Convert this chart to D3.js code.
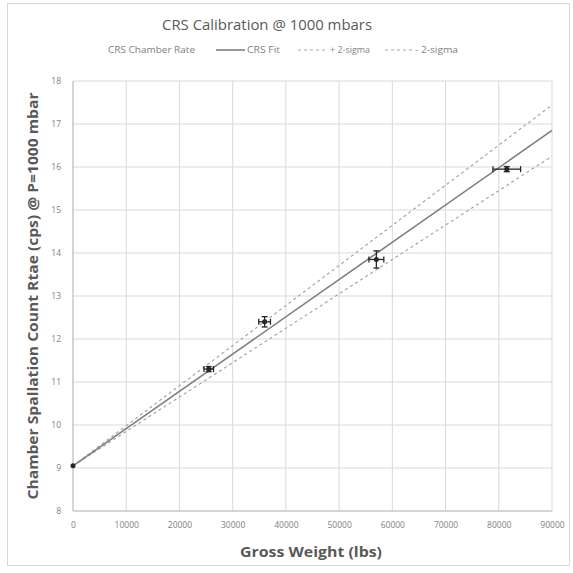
<!DOCTYPE html>
<html><head><meta charset="utf-8">
<script src="https://cdn.jsdelivr.net/npm/d3@7"></script>
<style>body{margin:0;background:#fff;} text{font-family:"Open Sans",sans-serif;}</style>
</head><body>
<svg id="c" width="573" height="573"></svg>
<script>
const weights = [0, 25500, 36000, 57000, 81500];
const rates = [9.05, 11.3, 12.4, 13.85, 15.95];
const weightErr = [0, 900, 1100, 1400, 2600];
const rateErr = [0, 0.06, 0.12, 0.2, 0.06];
const fitX = [0, 90000];
const fitY = [9.05, 16.85];
const plusY = [9.05, 17.44];
const minusY = [9.05, 16.25];
const xTicks = [0,10000,20000,30000,40000,50000,60000,70000,80000,90000];
const yTicks = [8,9,10,11,12,13,14,15,16,17,18];

const svg = d3.select("#c");
svg.append("rect").attr("x",7.5).attr("y",3.5).attr("width",562).attr("height",562)
  .attr("fill","#fff").attr("stroke","#d9d9d9");

const x = d3.scaleLinear().domain([0,90000]).range([73,552]);
const y = d3.scaleLinear().domain([8,18]).range([511,81]);

// gridlines
svg.append("g").selectAll("line").data(xTicks).join("line")
  .attr("x1",d=>x(d)).attr("x2",d=>x(d)).attr("y1",y(8)).attr("y2",y(18))
  .attr("stroke","#d9d9d9").attr("stroke-width",1);
svg.append("g").selectAll("line").data(yTicks).join("line")
  .attr("y1",d=>y(d)).attr("y2",d=>y(d)).attr("x1",x(0)).attr("x2",x(90000))
  .attr("stroke","#d9d9d9").attr("stroke-width",1);

// axes (labels only)
const xa = svg.append("g").attr("transform",`translate(0,${y(8)})`)
  .call(d3.axisBottom(x).tickValues(xTicks).tickFormat(d=>String(d)).tickSize(0).tickPadding(11));
const ya = svg.append("g").attr("transform",`translate(${x(0)},0)`)
  .call(d3.axisLeft(y).tickValues(yTicks).tickFormat(d=>String(d)).tickSize(0).tickPadding(12));
[xa,ya].forEach(a=>{a.select(".domain").remove();
  a.selectAll("text").attr("fill","#7f7f7f").style("font-size","8.5px").style("font-family","'Open Sans',sans-serif");});
svg.append("line").attr("x1",x(0)).attr("x2",x(0)).attr("y1",y(8)).attr("y2",y(18)).attr("stroke","#bfbfbf");
svg.append("line").attr("x1",x(0)).attr("x2",x(90000)).attr("y1",y(8)).attr("y2",y(8)).attr("stroke","#bfbfbf");

// lines
const line = d3.line().x(d=>x(d[0])).y(d=>y(d[1]));
svg.append("path").attr("d",line(fitX.map((v,i)=>[v,plusY[i]])))
  .attr("fill","none").attr("stroke","#a6a6a6").attr("stroke-width",1.2).attr("stroke-dasharray","3,3");
svg.append("path").attr("d",line(fitX.map((v,i)=>[v,minusY[i]])))
  .attr("fill","none").attr("stroke","#a6a6a6").attr("stroke-width",1.2).attr("stroke-dasharray","3,3");
svg.append("path").attr("d",line(fitX.map((v,i)=>[v,fitY[i]])))
  .attr("fill","none").attr("stroke","#7f7f7f").attr("stroke-width",1.6);

// error bars & points
const pts = weights.map((w,i)=>({w,r:rates[i],ex:weightErr[i],ey:rateErr[i]}));
const eb = svg.append("g").attr("stroke","#262626").attr("stroke-width",1.3);
pts.filter(p=>p.ex>0).forEach(p=>{
  eb.append("line").attr("x1",x(p.w-p.ex)).attr("x2",x(p.w+p.ex)).attr("y1",y(p.r)).attr("y2",y(p.r));
  eb.append("line").attr("x1",x(p.w-p.ex)).attr("x2",x(p.w-p.ex)).attr("y1",y(p.r)-3).attr("y2",y(p.r)+3);
  eb.append("line").attr("x1",x(p.w+p.ex)).attr("x2",x(p.w+p.ex)).attr("y1",y(p.r)-3).attr("y2",y(p.r)+3);
  eb.append("line").attr("y1",y(p.r-p.ey)).attr("y2",y(p.r+p.ey)).attr("x1",x(p.w)).attr("x2",x(p.w));
  eb.append("line").attr("y1",y(p.r-p.ey)).attr("y2",y(p.r-p.ey)).attr("x1",x(p.w)-3).attr("x2",x(p.w)+3);
  eb.append("line").attr("y1",y(p.r+p.ey)).attr("y2",y(p.r+p.ey)).attr("x1",x(p.w)-3).attr("x2",x(p.w)+3);
});
svg.append("g").selectAll("circle").data(pts).join("circle")
  .attr("cx",d=>x(d.w)).attr("cy",d=>y(d.r)).attr("r",2.5).attr("fill","#262626");

// title
svg.append("text").attr("x",267).attr("y",30).attr("text-anchor","middle")
  .attr("fill","#595959").style("font-size","15px").attr("textLength",210).attr("lengthAdjust","spacingAndGlyphs")
  .text("CRS Calibration @ 1000 mbars");

// legend
const lg = svg.append("g").style("font-size","8.5px").attr("fill","#7f7f7f");
const lt = (x0,w,t)=>lg.append("text").attr("x",x0).attr("y",53).attr("textLength",w).attr("lengthAdjust","spacingAndGlyphs").text(t);
lt(108,87,"CRS Chamber Rate");
lg.append("line").attr("x1",216).attr("x2",245).attr("y1",50).attr("y2",50).attr("stroke","#7f7f7f").attr("stroke-width",1.6);
lt(247,33,"CRS Fit");
lg.append("line").attr("x1",298).attr("x2",327).attr("y1",50).attr("y2",50).attr("stroke","#a6a6a6").attr("stroke-width",1.2).attr("stroke-dasharray","3,3");
lt(330,40,"+ 2-sigma");
lg.append("line").attr("x1",385).attr("x2",412).attr("y1",50).attr("y2",50).attr("stroke","#a6a6a6").attr("stroke-width",1.2).attr("stroke-dasharray","3,3");
lt(415,43,"- 2-sigma");

// axis titles
svg.append("text").attr("x",311).attr("y",557).attr("text-anchor","middle")
  .attr("fill","#595959").style("font-size","14.5px").style("font-weight","bold")
  .attr("textLength",142).attr("lengthAdjust","spacingAndGlyphs").text("Gross Weight (lbs)");
svg.append("text").attr("transform","translate(38,296) rotate(-90)").attr("text-anchor","middle")
  .attr("fill","#595959").style("font-size","14px").style("font-weight","bold")
  .attr("textLength",407).attr("lengthAdjust","spacingAndGlyphs")
  .text("Chamber Spallation Count Rtae (cps) @ P=1000 mbar");
</script>
</body></html>
